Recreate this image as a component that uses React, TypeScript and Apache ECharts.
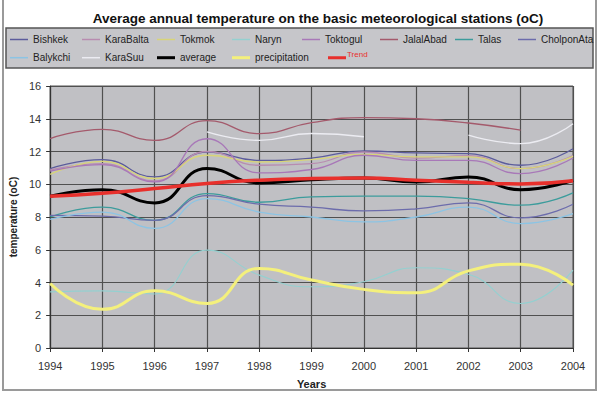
import React, { useEffect, useRef } from 'react';
import * as echarts from 'echarts';

const years = ['1994', '1995', '1996', '1997', '1998', '1999', '2000', '2001', '2002', '2003', '2004'];
const yTicks = { min: 0, max: 16, interval: 2 };

const bishkek = [10.96, 11.5, 10.45, 11.97, 11.46, 11.6, 12.03, 11.91, 11.87, 11.16, 12.17];
const karaBalta = [10.87, 11.26, 10.2, 12.0, 11.16, 11.26, 11.97, 11.6, 11.75, 10.96, 11.75];
const tokmok = [10.6, 11.4, 10.35, 11.77, 11.36, 11.5, 11.83, 11.67, 11.67, 10.96, 11.7];
const naryn = [3.43, 3.49, 3.3, 5.98, 4.45, 3.74, 4.05, 4.9, 4.5, 2.72, 4.76];
const toktogul = [10.8, 11.2, 10.14, 12.78, 10.7, 10.9, 11.77, 11.46, 11.46, 10.65, 11.6];
const jalalAbad = [12.79, 13.35, 12.68, 13.88, 13.09, 13.76, 14.07, 14.0, 13.74, 13.3, null];
const talas = [8.0, 8.6, 7.8, 9.43, 8.9, 9.23, 9.27, 9.27, 9.12, 8.72, 9.47];
const cholponAta = [8.1, 8.05, 7.8, 9.3, 8.78, 8.6, 8.37, 8.5, 8.86, 7.95, 8.78];
const balykchi = [7.85, 8.3, 7.3, 9.12, 8.3, 8.0, 7.7, 8.0, 8.6, 7.6, 8.2];
const karaSuu = [null, null, null, 13.2, 12.68, 13.1, 12.9, null, 13.0, 12.48, 13.7];
const average = [9.27, 9.67, 8.86, 10.96, 10.08, 10.28, 10.38, 10.14, 10.45, 9.67, 10.24];
const precipitation = [3.94, 2.36, 3.49, 2.72, 4.86, 4.15, 3.58, 3.37, 4.71, 5.12, 3.84];
const trend = [9.27, 9.45, 9.74, 10.05, 10.25, 10.35, 10.38, 10.25, 10.12, 10.02, 10.22];

const FONT = "'Liberation Sans', Arial, sans-serif";

type S = { name: string; data: (number | null)[]; color: string; width: number; lx: number; row: number };

const seriesDefs: S[] = [
  { name: 'Bishkek', data: bishkek, color: '#5c5c9c', width: 1.3, lx: 10, row: 0 },
  { name: 'KaraBalta', data: karaBalta, color: '#b88cb0', width: 1.3, lx: 82, row: 0 },
  { name: 'Tokmok', data: tokmok, color: '#d8d478', width: 1.3, lx: 157, row: 0 },
  { name: 'Naryn', data: naryn, color: '#94d0d0', width: 1.1, lx: 232, row: 0 },
  { name: 'Toktogul', data: toktogul, color: '#a878b8', width: 1.3, lx: 302, row: 0 },
  { name: 'JalalAbad', data: jalalAbad, color: '#a45a6c', width: 1.3, lx: 380, row: 0 },
  { name: 'Talas', data: talas, color: '#3c9c9c', width: 1.3, lx: 455, row: 0 },
  { name: 'CholponAta', data: cholponAta, color: '#6c6cac', width: 1.3, lx: 518, row: 0 },
  { name: 'Balykchi', data: balykchi, color: '#8cc4e4', width: 1.3, lx: 10, row: 1 },
  { name: 'KaraSuu', data: karaSuu, color: '#ececf2', width: 1.3, lx: 82, row: 1 },
  { name: 'average', data: average, color: '#000000', width: 3, lx: 157, row: 1 },
  { name: 'precipitation', data: precipitation, color: '#f4f07c', width: 3, lx: 232, row: 1 },
  { name: 'Trend', data: trend, color: '#e8302c', width: 3.5, lx: 328, row: 1 },
];

const rowY = [39.5, 57.7];

export default function App() {
  const ref = useRef<HTMLDivElement>(null);
  useEffect(() => {
    if (!ref.current) return;
    const chart = echarts.init(ref.current, null, { renderer: 'svg' });
    const legends = seriesDefs.map((s) => {
      const isTrend = s.name === 'Trend';
      const h = s.width >= 3 ? 3 : 1.5;
      if (isTrend) {
        return {
          data: [{ name: s.name, icon: 'path://M0,3 L0.01,3 L0.01,3.01 Z M0,10 L18,10 L18,13 L0,13 Z' }],
          left: s.lx,
          top: rowY[s.row] - 8.5,
          orient: 'horizontal',
          itemWidth: 18,
          itemHeight: 10,
          padding: 0,
          selectedMode: false,
          textStyle: { fontFamily: FONT, fontSize: 8, lineHeight: 8, color: '#e8302c', padding: [0, 0, 0, -4] },
        };
      }
      return {
        data: [{ name: s.name, icon: 'rect' }],
        left: s.lx,
        top: rowY[s.row] - 6,
        orient: 'horizontal',
        itemWidth: 18,
        itemHeight: h,
        padding: 0,
        selectedMode: false,
        textStyle: { fontFamily: FONT, fontSize: 10, lineHeight: 12, color: '#222' },
      };
    });
    chart.setOption({
      animation: false,
      backgroundColor: '#ffffff',
      title: {
        text: 'Average annual temperature on the basic meteorological stations (oC)',
        left: 313,
        top: 6,
        textAlign: 'center',
        textStyle: { fontFamily: FONT, fontSize: 13.5, fontWeight: 'bold', color: '#111' },
      },
      graphic: [
        {
          type: 'rect',
          z: -10,
          shape: { x: 3, y: -4, width: 593, height: 394 },
          style: { fill: 'none', stroke: '#9a9a9a', lineWidth: 2 },
        },
        {
          type: 'rect',
          z: -10,
          shape: { x: 6, y: 28, width: 587, height: 40 },
          style: { fill: '#c6c6ca', stroke: '#555', lineWidth: 1.5 },
        },
      ],
      legend: legends,
      grid: {
        left: 41,
        right: 27,
        top: 86,
        bottom: 46,
        show: true,
        backgroundColor: '#c0c0c4',
        borderColor: '#555',
        borderWidth: 1,
      },
      xAxis: {
        type: 'category',
        data: years,
        boundaryGap: false,
        name: 'Years',
        nameLocation: 'middle',
        nameGap: 30,
        nameTextStyle: { fontFamily: FONT, fontSize: 11, fontWeight: 'bold', color: '#222' },
        axisLine: { lineStyle: { color: '#333', width: 1.2 } },
        axisTick: { show: true, length: 4, inside: false, lineStyle: { color: '#333' } },
        axisLabel: { fontFamily: FONT, fontSize: 11, color: '#333', margin: 12 },
        splitLine: { show: true, lineStyle: { color: '#505050', width: 1.2 } },
      },
      yAxis: {
        type: 'value',
        min: yTicks.min,
        max: yTicks.max,
        interval: yTicks.interval,
        name: 'temperature (oC)',
        nameLocation: 'middle',
        nameGap: 20,
        nameRotate: 90,
        nameTextStyle: { fontFamily: FONT, fontSize: 10, fontWeight: 'bold', color: '#222' },
        axisLine: { show: true, lineStyle: { color: '#333', width: 1.2 } },
        axisTick: { show: true, length: 4, lineStyle: { color: '#333' } },
        axisLabel: { fontFamily: FONT, fontSize: 11, color: '#333', margin: 9 },
        splitLine: { show: true, lineStyle: { color: '#505050', width: 1.2 } },
      },
      series: seriesDefs.map((s) => ({
        name: s.name,
        type: 'line',
        data: s.data,
        smooth: 0.5,
        symbol: 'none',
        connectNulls: false,
        lineStyle: { color: s.color, width: s.width },
        itemStyle: { color: s.color },
        emphasis: { disabled: true },
      })),
    });
    return () => chart.dispose();
  }, []);
  return <div ref={ref} style={{ width: 600, height: 394, position: 'absolute', left: 0, top: 0 }} />;
}
